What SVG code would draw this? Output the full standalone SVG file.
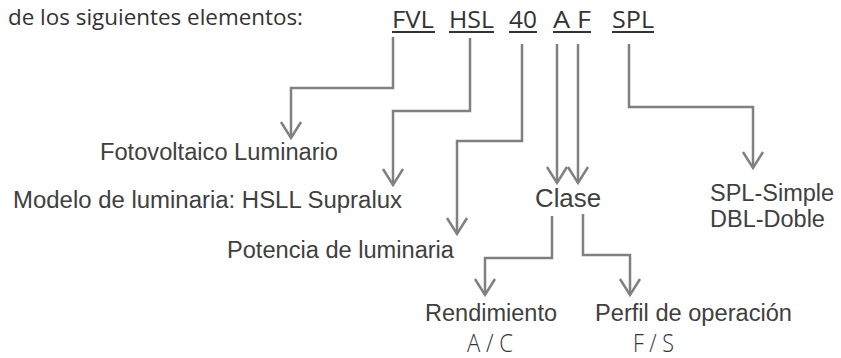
<svg xmlns="http://www.w3.org/2000/svg" width="841" height="358" viewBox="0 0 841 358">
  <defs>
    <marker id="arrow" markerUnits="userSpaceOnUse" markerWidth="24" markerHeight="26" viewBox="-20 -13 24 26" refX="0" refY="0" orient="auto" overflow="visible">
      <path d="M-16,-10 L0,0 L-16,10" fill="none" stroke="#808080" stroke-width="2.5"/>
    </marker>
  </defs>
  <style>
    .hdr { font-family: "Open Sans", "DejaVu Sans", sans-serif; font-size: 21px; fill: #333333; }
    .code { font-family: "Open Sans", "DejaVu Sans", sans-serif; font-size: 24px; fill: #333333; }
    .ul { stroke: #333333; stroke-width: 2; }
    .lbl { font-family: "Liberation Sans", Arial, sans-serif; font-size: 23.5px; fill: #404040; }
    .big { font-family: "Liberation Sans", Arial, sans-serif; font-size: 26px; fill: #404040; }
    .thin { font-family: "Open Sans", "DejaVu Sans", sans-serif; font-weight: 300; font-size: 25px; fill: #333333; }
    .conn { fill: none; stroke: #808080; stroke-width: 2.5; }
  </style>
  <rect width="841" height="358" fill="#ffffff"/>

  <g id="header">
    <text class="hdr" x="8" y="25" textLength="295" lengthAdjust="spacingAndGlyphs">de los siguientes elementos:</text>
  </g>

  <g id="code-fvl">
    <text class="code" x="392" y="28" textLength="42" lengthAdjust="spacingAndGlyphs">FVL</text>
    <line class="ul" x1="392" y1="32" x2="435" y2="32"/>
  </g>
  <g id="code-hsl">
    <text class="code" x="449" y="28" textLength="45" lengthAdjust="spacingAndGlyphs">HSL</text>
    <line class="ul" x1="449" y1="32" x2="494" y2="32"/>
  </g>
  <g id="code-40">
    <text class="code" x="509" y="28" textLength="28" lengthAdjust="spacingAndGlyphs">40</text>
    <line class="ul" x1="509" y1="32" x2="537" y2="32"/>
  </g>
  <g id="code-af">
    <text class="code" x="553" y="28" textLength="38" lengthAdjust="spacingAndGlyphs">A F</text>
    <line class="ul" x1="553" y1="32" x2="591" y2="32"/>
  </g>
  <g id="code-spl">
    <text class="code" x="612" y="28" textLength="42" lengthAdjust="spacingAndGlyphs">SPL</text>
    <line class="ul" x1="612" y1="32" x2="654" y2="32"/>
  </g>

  <g id="connectors">
    <path class="conn" d="M393,37 V88 H291 V138" marker-end="url(#arrow)"/>
    <path class="conn" d="M470,38 V111 H393 V185" marker-end="url(#arrow)"/>
    <path class="conn" d="M522,44 V141 H457 V234" marker-end="url(#arrow)"/>
    <path class="conn" d="M557,44 V183" marker-end="url(#arrow)"/>
    <path class="conn" d="M578,44 V183" marker-end="url(#arrow)"/>
    <path class="conn" d="M629,44 V107 H753 V168" marker-end="url(#arrow)"/>
    <path class="conn" d="M552,216 V258 H485 V295" marker-end="url(#arrow)"/>
    <path class="conn" d="M583,214 V255 H630 V295" marker-end="url(#arrow)"/>
  </g>

  <g id="node-fotovoltaico">
    <text class="lbl" x="100" y="160" textLength="238" lengthAdjust="spacingAndGlyphs">Fotovoltaico Luminario</text>
  </g>
  <g id="node-modelo">
    <text class="lbl" x="13" y="208" textLength="389" lengthAdjust="spacingAndGlyphs">Modelo de luminaria: HSLL Supralux</text>
  </g>
  <g id="node-potencia">
    <text class="lbl" x="227" y="258" textLength="227" lengthAdjust="spacingAndGlyphs">Potencia de luminaria</text>
  </g>
  <g id="node-clase">
    <text class="big" x="535" y="207" textLength="66" lengthAdjust="spacingAndGlyphs">Clase</text>
  </g>
  <g id="node-spl">
    <text class="lbl" x="710" y="201">SPL-Simple</text>
    <text class="lbl" x="710" y="227">DBL-Doble</text>
  </g>
  <g id="node-rendimiento">
    <text class="lbl" x="425" y="321" textLength="132" lengthAdjust="spacingAndGlyphs">Rendimiento</text>
    <text class="thin" x="467" y="352" textLength="46" lengthAdjust="spacingAndGlyphs">A / C</text>
  </g>
  <g id="node-perfil">
    <text class="lbl" x="595" y="321" textLength="197" lengthAdjust="spacingAndGlyphs">Perfil de operación</text>
    <text class="thin" x="633" y="352" textLength="41" lengthAdjust="spacingAndGlyphs">F / S</text>
  </g>
</svg>
